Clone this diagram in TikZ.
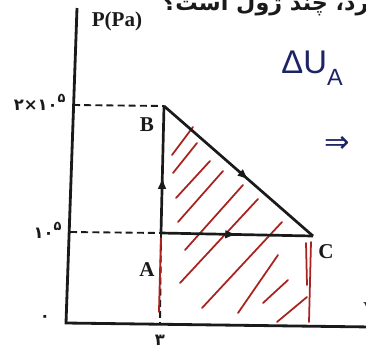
\documentclass[tikz,border=0pt]{standalone}
\usepackage{fontspec}
\setmainfont{Liberation Serif}
\newfontfamily\farsi[Script=Arabic]{DejaVu Sans}
\newfontfamily\mano{Liberation Sans}
\newfontfamily\simbolos{DejaVu Sans}
\TeXXeTstate=1
\usetikzlibrary{arrows.meta,decorations.markings}
\definecolor{negro}{HTML}{1A1A1A}
\definecolor{rojo}{HTML}{A8231F}
\definecolor{tinta}{HTML}{1C2366}
\newcommand{\expo}[1]{\raisebox{0.5em}{\fontsize{11}{11}\selectfont #1}}

\begin{document}
\begin{tikzpicture}[x=0.03cm,y=-0.03cm,
      eje/.style={draw=negro,line width=2.4pt,line join=miter},
      guia/.style={draw=negro,line width=1.6pt,dash pattern=on 6pt off 3.5pt},
      lado/.style={draw=negro,line width=2.3pt},
      medio/.style={postaction={decorate},decoration={markings,
                   mark=at position #1 with {\arrow{Latex[length=10pt,width=7.5pt]}}}},
      rayado/.style={draw=rojo,line width=1.5pt,line cap=round},
      etq/.style={font=\bfseries\fontsize{18}{18}\selectfont,inner sep=1pt,text=negro},
      num/.style={font=\simbolos\bfseries\fontsize{14}{14}\selectfont,inner sep=1pt,text=negro},
      apunte/.style={text=tinta,inner sep=1pt}]
    \useasboundingbox (0,0) rectangle (366,350);
    % ejes y puntos del ciclo
    \coordinate (O) at (66,323);
    \coordinate (arriba) at (77,8);
    \coordinate (derecha) at (372,327);
    \coordinate (p2) at (73,105);
    \coordinate (p1) at (70,232);
    \coordinate (v3) at (160,323);
    \coordinate (A) at (161,233);
    \coordinate (B) at (164,106);
    \coordinate (C) at (313,236);
    % rayado a mano
    \foreach \xa/\ya/\xb/\yb in {172/155/193/127,173/173/197/143,176/198/210/161,
        178/222/223/171,185/250/243/185,180/283/258/199,202/308/282/222,
        238/313/278/255,263/303/288/280,277/322/307/297,306/243/307/285,311/242/309/322}
      \draw[rayado] (\xa,\ya) -- (\xb,\yb);
    \draw[eje] (arriba) -- (O) -- (derecha);
    \draw[guia] (p2) -- (B);
    \draw[guia] (p1) -- (A);
    \draw[guia] (A) -- (v3);
    \draw[rayado,line width=1.6pt] (161,238) -- (159,312);
    \draw[lado,medio=0.44] (A) -- (B);
    \draw[lado,medio=0.57] (B) -- (C);
    \draw[lado,medio=0.5] (A) -- (C);
    % textos
    \node[etq] (ejeP) at (117,21) {P(Pa)};
    \node[etq] (ejeV) at (371,310) {V};
    \node[etq] (nA) at (147,270) {A};
    \node[etq] (nB) at (147,125) {B};
    \node[etq] (nC) at (326,252) {C};
    \node[num,anchor=east] (m2) at (67,102) {۲×۱۰\expo{۵}};
    \node[num,anchor=east] (m1) at (63,230) {۱۰\expo{۵}};
    \node[num] (cero) at (45,318) {۰};
    \node[num] (tres) at (160,340) {۳};
    \node[font=\farsi\bfseries\fontsize{19}{19}\selectfont,anchor=base east,inner sep=0pt,text=negro]
      (enunciado) at (378,10) {\beginR برد، چند ژول است؟\endR};
    \node[apunte,anchor=west,font=\mano\fontsize{28}{28}\selectfont] (du) at (280,68)
      {ΔU\raisebox{-0.35em}{\fontsize{20}{20}\selectfont A}};
    \node[apunte,font=\simbolos\fontsize{26}{26}\selectfont] (entonces) at (337,144) {⇒};
\end{tikzpicture}
\end{document}
